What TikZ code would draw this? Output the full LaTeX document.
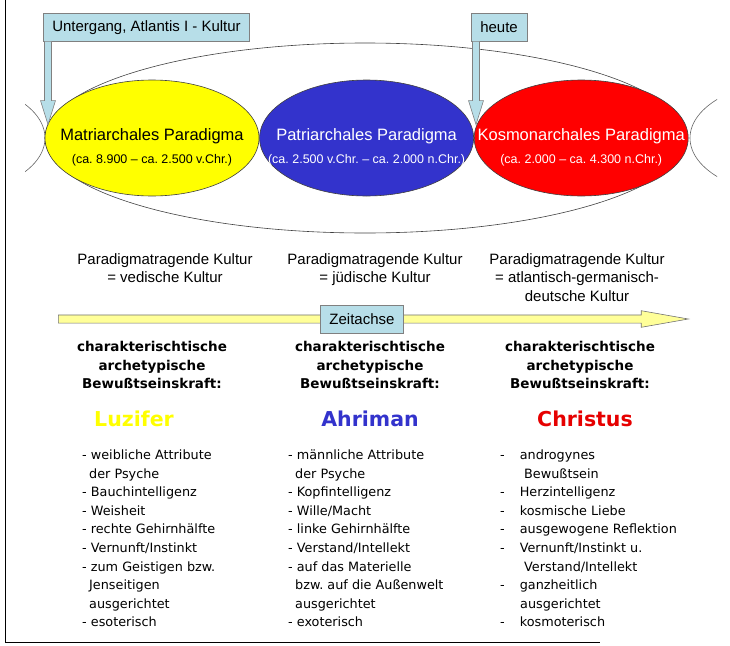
\documentclass[tikz,border=0pt]{standalone}
\usepackage{fontspec}
\setmainfont{Liberation Sans}
\newfontfamily\tahoma{DejaVu Sans}
\usetikzlibrary{positioning,shapes.geometric,shapes.arrows}
\frenchspacing

\definecolor{callfill}{RGB}{183,222,232}
\definecolor{matriyellow}{RGB}{255,255,0}
\definecolor{patriblue}{RGB}{51,51,204}
\definecolor{kosmored}{RGB}{255,0,0}
\definecolor{axisfill}{RGB}{255,255,153}
\definecolor{christred}{RGB}{230,0,0}

\tikzset{
	paradigm/.style={ellipse, draw=black!75, line width=0.6pt, minimum width=214pt, minimum height=116pt, inner sep=0pt},
	ptitle/.style={align=center, inner sep=0pt, font=\fontsize{16.5}{19}\selectfont},
	callout/.style={draw=black!50, fill=callfill, line width=0.6pt, minimum height=28pt, inner xsep=9pt, inner ysep=0pt, font=\fontsize{15}{18}\selectfont},
	stemline/.style={draw=black!50, fill=callfill, line width=0.6pt},
	kultur/.style={align=center, inner sep=0pt, anchor=north, font=\fontsize{15}{18.5}\selectfont},
	heading/.style={align=center, inner sep=0pt, anchor=north, font=\tahoma\bfseries\fontsize{13.5}{18.5}\selectfont},
	archetype/.style={inner sep=0pt, anchor=base, font=\tahoma\bfseries\fontsize{20.5}{24}\selectfont},
	traits/.style={align=left, inner sep=0pt, anchor=north west, font=\tahoma\fontsize{12.8}{18.6}\selectfont},
}
\newcommand{\indt}{\hspace*{7pt}}
\newcommand{\gap}{-\hspace*{15pt}}
\newcommand{\stem}[1]{\draw[stemline] ([xshift=1.5pt]#1.south west) -- ++(0,59) -- ++(-4,0) -- ++(7.5,24) -- ++(7.5,-24) -- ++(-4,0) -- ++(0,-59);}

\begin{document}
\begin{tikzpicture}[x=1pt, y=-1pt]
		\useasboundingbox (0,0) rectangle (730,645);
		\draw[line width=0.8pt] (5,0) -- (5,642) -- (600,642);
		
		% Ages
		\node[ellipse, draw=black!75, line width=0.6pt, minimum width=640pt, minimum height=190pt] (epoch) at (365,138) {};
		\begin{scope}
			\clip (25,0) rectangle (717,645);
			\node[paradigm, draw=black!60] (prev) at (-62,138) {};
			\node[paradigm, draw=black!60] (next) at (797,138) {};
		\end{scope}
		\node[paradigm, fill=matriyellow]                    (matri) at (152,138) {};
		\node[paradigm, fill=patriblue, right=0pt of matri]  (patri) {};
		\node[paradigm, fill=kosmored, right=0pt of patri]   (kosmo) {};
		
		\node[ptitle] (matri_t) at ([yshift=-9pt]matri.center) {Matriarchales Paradigma\\[4pt]{\fontsize{12.5}{15}\selectfont (ca. 8.900 – ca. 2.500 v.Chr.)}};
		\node[ptitle, text=white] (patri_t) at ([yshift=-9pt]patri.center) {Patriarchales Paradigma\\[4pt]{\fontsize{12.5}{15}\selectfont (ca. 2.500 v.Chr. – ca. 2.000 n.Chr.)}};
		\node[ptitle, text=white] (kosmo_t) at ([yshift=-9pt]kosmo.center) {Kosmonarchales Paradigma\\[4pt]{\fontsize{12.5}{15}\selectfont (ca. 2.000 – ca. 4.300 n.Chr.)}};
		
		% Callouts
		\node[callout, anchor=north west] (untergang) at (43,13) {Untergang, Atlantis I - Kultur};
		\node[callout, anchor=north west] (heute) at (471,13) {heute};
		\stem{untergang}
		\stem{heute}
		
		% Cultures
		\node[kultur] (kul_v) at (165,253) {Paradigmatragende Kultur\\= vedische Kultur};
		\node[kultur] (kul_j) at (375,253) {Paradigmatragende Kultur\\= jüdische Kultur};
		\node[kultur] (kul_g) at (577,253) {Paradigmatragende Kultur\\= atlantisch-germanisch-\\deutsche Kultur};
		
		% Time axis
		\node[single arrow, draw=black!55, fill=axisfill, line width=0.6pt, inner sep=0pt, inner ysep=3.75pt, minimum height=630pt, minimum width=16pt, single arrow head extend=4.25pt, single arrow tip angle=20, anchor=tail] (axis) at (58,319) {};
		\node[callout] (zeit) at (362,319) {Zeitachse};
		
		% Forces
		\node[heading] (head_l) at (152,341.5) {charakterischtische\\archetypische\\Bewußtseinskraft:};
		\node[heading] (head_a) at (370,341.5) {charakterischtische\\archetypische\\Bewußtseinskraft:};
		\node[heading] (head_c) at (580,341.5) {charakterischtische\\archetypische\\Bewußtseinskraft:};
		
		\node[archetype, text=matriyellow] (luzifer) at (134,426) {Luzifer};
		\node[archetype, text=patriblue]   (ahriman) at (370,426) {Ahriman};
		\node[archetype, text=christred]   (christus) at (585,426) {Christus};
		
		\node[traits] (list_l) at (82,449.5) {- weibliche Attribute\\\indt der Psyche\\- Bauchintelligenz\\- Weisheit\\- rechte Gehirnhälfte\\- Vernunft/Instinkt\\- zum Geistigen bzw.\\\indt Jenseitigen\\\indt ausgerichtet\\- esoterisch};
		\node[traits] (list_a) at (288,449.5) {- männliche Attribute\\\indt der Psyche\\- Kopfintelligenz\\- Wille/Macht\\- linke Gehirnhälfte\\- Verstand/Intellekt\\- auf das Materielle\\\indt bzw. auf die Außenwelt\\\indt ausgerichtet\\- exoterisch};
		\node[traits] (list_c) at (500,449.5) {\gap androgynes\\\hspace*{24pt}Bewußtsein\\\gap Herzintelligenz\\\gap kosmische Liebe\\\gap ausgewogene Reflektion\\\gap Vernunft/Instinkt u.\\\hspace*{24pt}Verstand/Intellekt\\\gap ganzheitlich\\\hspace*{20pt}ausgerichtet\\\gap kosmoterisch};
		
\end{tikzpicture}
\end{document}
